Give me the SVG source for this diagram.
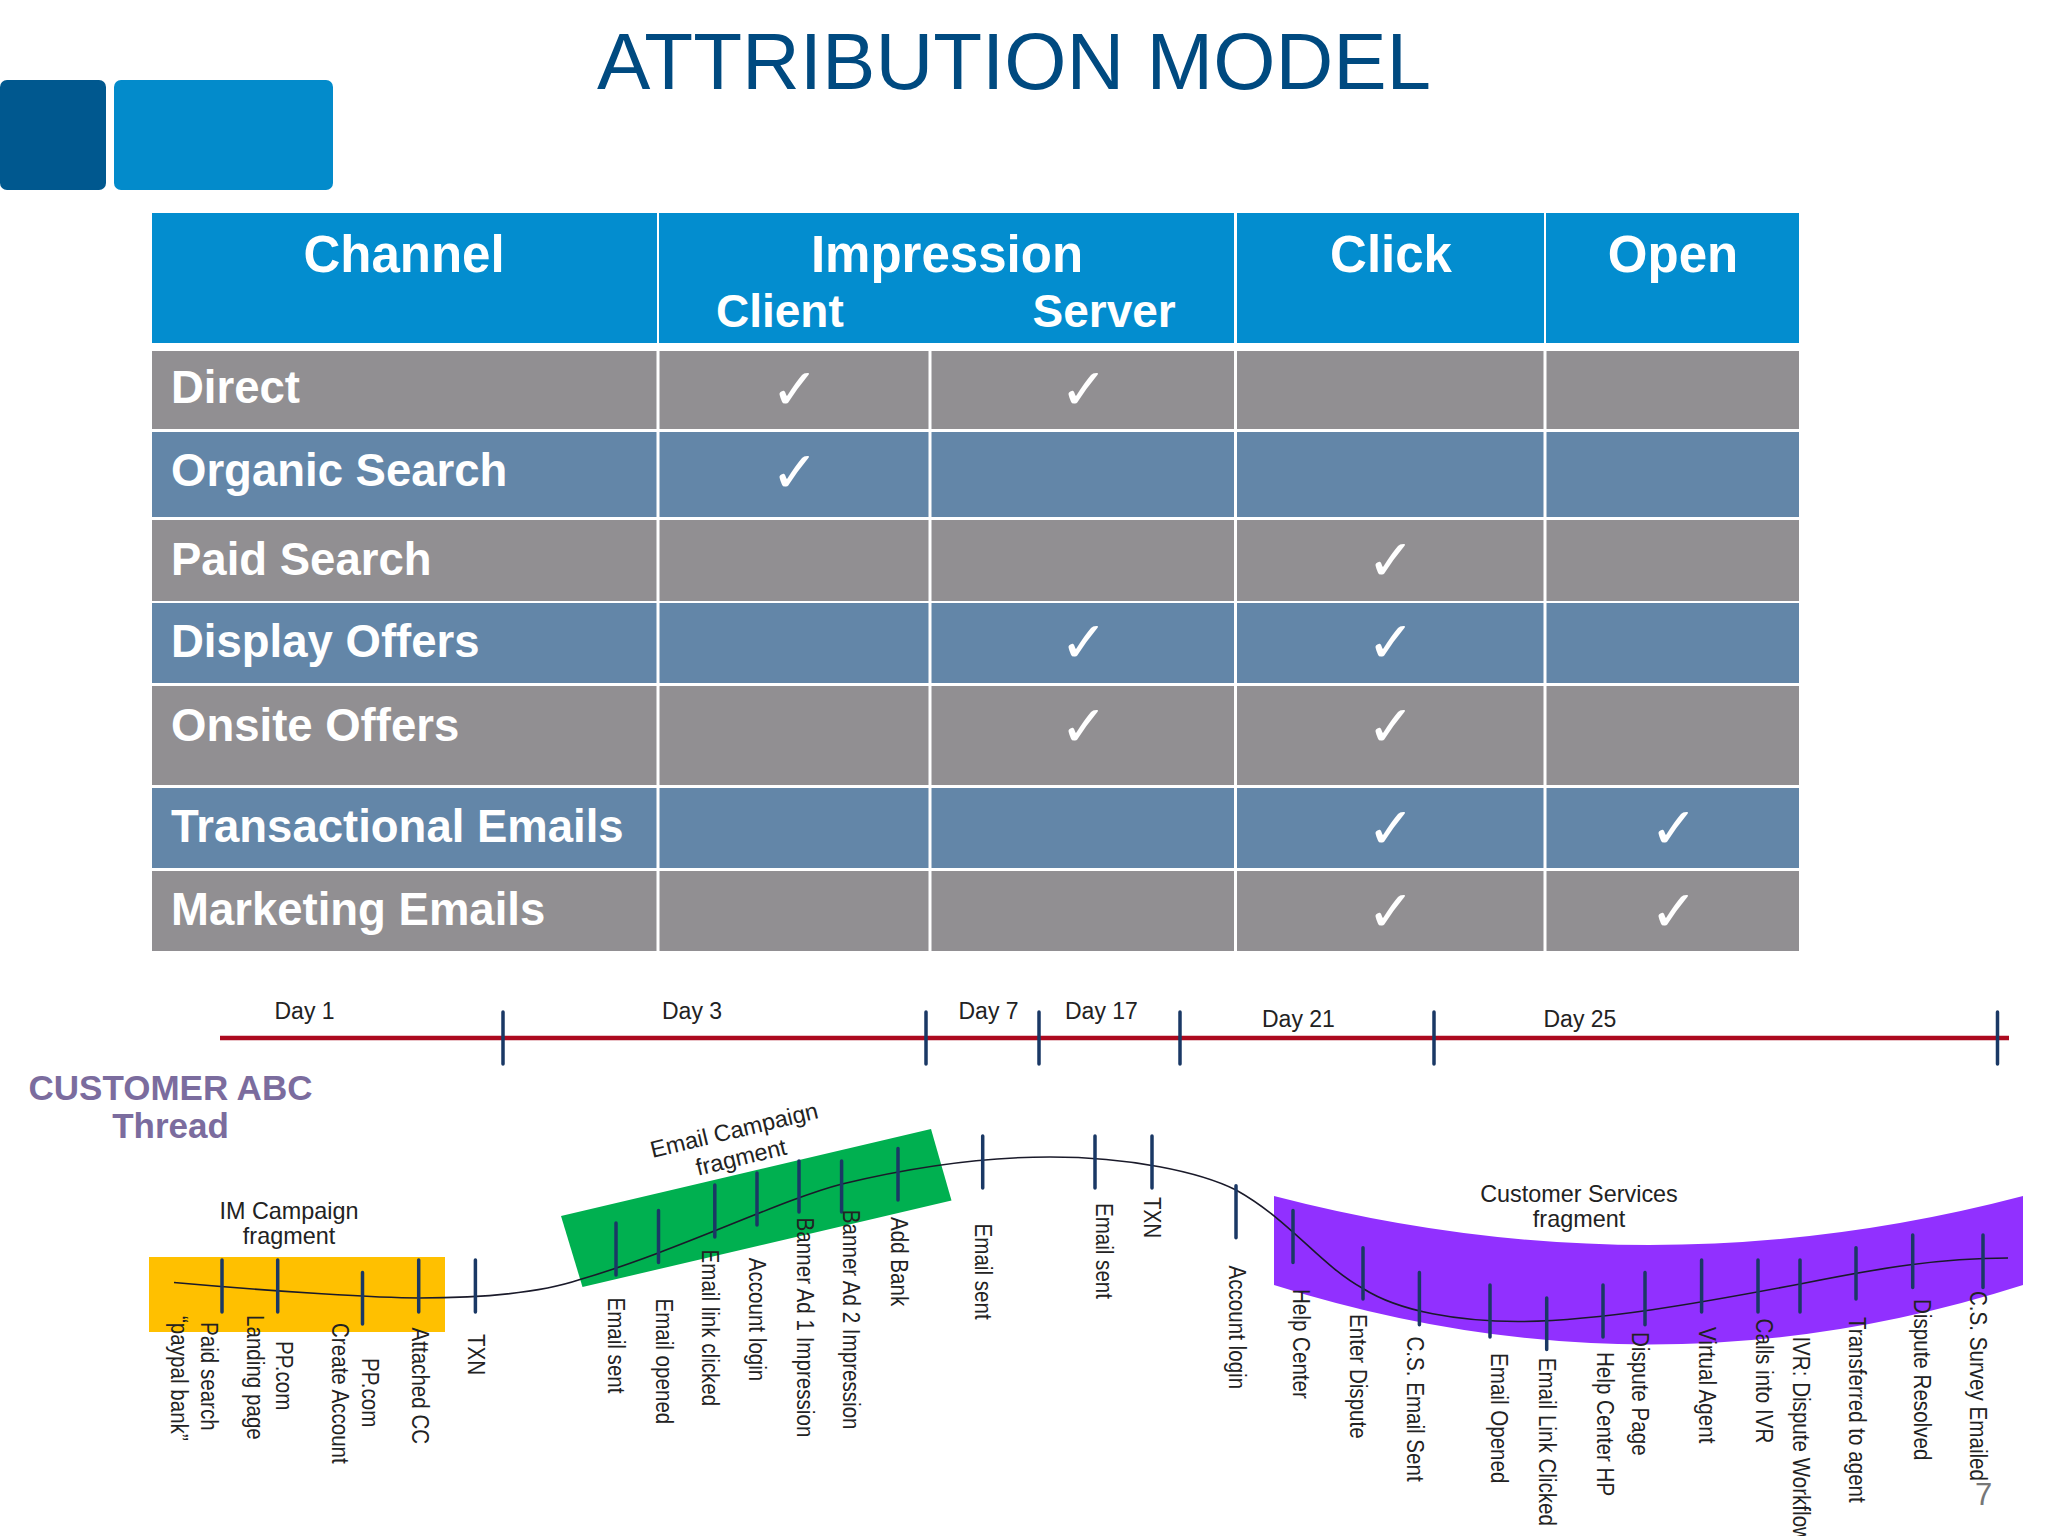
<svg xmlns="http://www.w3.org/2000/svg" width="2048" height="1536" viewBox="0 0 2048 1536">
<style>
text{font-family:"Liberation Sans",Arial,sans-serif}
.hd{font-size:51px;font-weight:700;fill:#fff;text-anchor:middle}
.sub{font-size:46px;font-weight:700;fill:#fff}
.row{font-size:45.500px;font-weight:700;fill:#fff}
.ck{font-family:"DejaVu Sans",sans-serif;font-size:57px;fill:#fff;text-anchor:middle}
.g{fill:#918f92}.b{fill:#6386a8}.h{fill:#038dcf}
.day{font-size:23px;fill:#222}
.frag{font-size:23.400px;fill:#222;text-anchor:middle}
.ev{font-size:20.600px;fill:#222}
.cust{font-size:35px;font-weight:700;fill:#7b6c9e;text-anchor:middle}
.tick{stroke:#1a3865;stroke-width:3.500;stroke-linecap:round;fill:none}
.sep{stroke:#fff;stroke-width:3}
</style>
<rect width="2048" height="1536" fill="#fff"/>
<g id="title"><text x="1014" y="89" font-size="80" fill="#004a80" text-anchor="middle">ATTRIBUTION MODEL</text></g>
<g id="logo">
<rect x="0" y="80" width="106" height="110" rx="7" fill="#00588f"/>
<rect x="114" y="80" width="219" height="110" rx="7" fill="#038bcb"/>
</g>
<g id="table">
<g id="header">
<rect class="h" x="152" y="213" width="505" height="130"/><rect class="h" x="659" y="213" width="575" height="130"/><rect class="h" x="1237" y="213" width="307" height="130"/><rect class="h" x="1546" y="213" width="253" height="130"/>
<text class="hd" x="404" y="272">Channel</text><text class="hd" x="947" y="272">Impression</text><text class="hd" x="1391" y="272">Click</text><text class="hd" x="1673" y="272">Open</text>
<text class="sub" x="716" y="327">Client</text><text class="sub" x="1032.500" y="327">Server</text>
</g>
<g id="row-direct"><rect class="g" x="152" y="351" width="1647" height="78"/><text class="row" x="171" y="403">Direct</text><text class="ck" x="795" y="409">✓</text><text class="ck" x="1084" y="409">✓</text></g>
<g id="row-organic"><rect class="b" x="152" y="432" width="1647" height="85"/><text class="row" x="171" y="486">Organic Search</text><text class="ck" x="795" y="492">✓</text></g>
<g id="row-paid"><rect class="g" x="152" y="520" width="1647" height="81"/><text class="row" x="171" y="575">Paid Search</text><text class="ck" x="1391" y="580">✓</text></g>
<g id="row-display"><rect class="b" x="152" y="603" width="1647" height="80"/><text class="row" x="171" y="657">Display Offers</text><text class="ck" x="1084" y="662">✓</text><text class="ck" x="1391" y="662">✓</text></g>
<g id="row-onsite"><rect class="g" x="152" y="686" width="1647" height="99"/><text class="row" x="171" y="741">Onsite Offers</text><text class="ck" x="1084" y="746">✓</text><text class="ck" x="1391" y="746">✓</text></g>
<g id="row-transactional"><rect class="b" x="152" y="788" width="1647" height="80"/><text class="row" x="171" y="842">Transactional Emails</text><text class="ck" x="1391" y="848">✓</text><text class="ck" x="1674" y="848">✓</text></g>
<g id="row-marketing"><rect class="g" x="152" y="871" width="1647" height="80"/><text class="row" x="171" y="925">Marketing Emails</text><text class="ck" x="1391" y="931">✓</text><text class="ck" x="1674" y="931">✓</text></g>
<g id="grid">
<path class="sep" d="M658 351V951M1235.500 351V951M1545 351V951M930 351V951"/>
</g>
</g>
<g id="fragments">
<polygon id="im-fragment" points="149,1257 445,1257 445,1332 149,1332" fill="#ffc000"/>
<polygon id="email-fragment" points="561,1216 931,1129 951.500,1200.500 582.500,1287" fill="#00b050"/>
<path id="cs-fragment" d="M1274 1196Q1650 1294 2023 1196V1285Q1650 1404 1274 1285Z" fill="#9130ff"/>
</g>
<g id="connectors">
<path id="timeline" d="M220 1038H2009" stroke="#ac0a1f" stroke-width="4.500" fill="none"/>
<path id="timeline-ticks" class="tick" d="M503 1012V1064M926 1012V1064M1039 1012V1064M1180 1012V1064M1434 1012V1064M1997.500 1012V1064"/>
<path id="thread" d="M174 1282.500C280 1292 380 1298 419 1298C480 1298 540 1293 580 1279.600C680 1250 780 1200 842 1184C900 1170 970 1157 1050 1157C1130 1157 1200 1172 1236 1190C1290 1220 1320 1265 1363 1288.500C1400 1312 1460 1321.500 1518 1321.500C1600 1321 1700 1303 1800 1284C1880 1268 1940 1258 2008 1258" stroke="#1a1a2a" stroke-width="1.600" fill="none"/>
<path id="event-ticks" class="tick" d="M222 1260V1312M277.700 1260V1312M362.500 1272.500V1324M418.700 1260V1312M475.400 1260V1312M616 1223V1275M658.500 1210.500V1262.600M714.800 1185V1237M757 1173V1225M799 1161V1212M841.600 1161V1212M898 1148.400V1200M982.700 1136V1188M1095 1136V1188M1152 1136V1188M1236 1185.700V1237.800M1293 1210.500V1262.600M1363 1247.700V1299M1419.400 1272.600V1324.700M1490 1285V1337M1546.700 1298V1349.500M1603 1285V1337M1645 1272.600V1324.700M1701.600 1260V1312M1758 1260V1312M1800 1260V1312M1856 1247.700V1299M1912.700 1235V1287.400M1983 1235V1287.400"/>
</g>
<g id="days">
<text class="day" x="274.500" y="1019">Day 1</text><text class="day" x="662" y="1019">Day 3</text><text class="day" x="958.500" y="1019">Day 7</text><text class="day" x="1065" y="1019">Day 17</text><text class="day" x="1262" y="1027">Day 21</text><text class="day" x="1543.500" y="1027">Day 25</text>
</g>
<g id="customer-label"><text class="cust" x="170.500" y="1100">CUSTOMER ABC</text><text class="cust" x="170.500" y="1138">Thread</text></g>
<g id="fragment-labels">
<text class="frag" x="289" y="1219">IM Campaign</text><text class="frag" x="289" y="1244">fragment</text>
<text class="frag" transform="translate(736 1138) rotate(-13.500)">Email Campaign</text><text class="frag" transform="translate(743 1165) rotate(-13.500)">fragment</text>
<text class="frag" x="1579" y="1202">Customer Services</text><text class="frag" x="1579" y="1227">fragment</text>
</g>
<g id="event-labels">
<text class="ev" transform="translate(170.700 1316) rotate(90) scale(1 1.120)">“paypal bank”</text>
<text class="ev" transform="translate(200.500 1322) rotate(90) scale(1 1.120)">Paid search</text>
<text class="ev" transform="translate(247 1315) rotate(90) scale(1 1.120)">Landing page</text>
<text class="ev" transform="translate(275.500 1341) rotate(90) scale(1 1.120)">PP.com</text>
<text class="ev" transform="translate(332 1323) rotate(90) scale(1 1.120)">Create Account</text>
<text class="ev" transform="translate(361.600 1358) rotate(90) scale(1 1.120)">PP.com</text>
<text class="ev" transform="translate(411.600 1327.500) rotate(90) scale(1 1.120)">Attached CC</text>
<text class="ev" transform="translate(467.500 1334) rotate(90) scale(1 1.120)">TXN</text>
<text class="ev" transform="translate(608 1297.400) rotate(90) scale(1 1.120)">Email sent</text>
<text class="ev" transform="translate(656 1298.400) rotate(90) scale(1 1.120)">Email opened</text>
<text class="ev" transform="translate(702 1249.500) rotate(90) scale(1 1.120)">Email link clicked</text>
<text class="ev" transform="translate(749 1257.700) rotate(90) scale(1 1.120)">Account login</text>
<text class="ev" transform="translate(797 1217.600) rotate(90) scale(1 1.120)">Banner Ad 1 Impression</text>
<text class="ev" transform="translate(842.500 1209.800) rotate(90) scale(1 1.120)">Banner Ad 2 Impression</text>
<text class="ev" transform="translate(891 1217) rotate(90) scale(1 1.120)">Add Bank</text>
<text class="ev" transform="translate(975 1223.500) rotate(90) scale(1 1.120)">Email sent</text>
<text class="ev" transform="translate(1096 1202.900) rotate(90) scale(1 1.120)">Email sent</text>
<text class="ev" transform="translate(1144 1197) rotate(90) scale(1 1.120)">TXN</text>
<text class="ev" transform="translate(1229 1265.500) rotate(90) scale(1 1.120)">Account login</text>
<text class="ev" transform="translate(1293 1289) rotate(90) scale(1 1.120)">Help Center</text>
<text class="ev" transform="translate(1350 1314) rotate(90) scale(1 1.120)">Enter Dispute</text>
<text class="ev" transform="translate(1407 1336.400) rotate(90) scale(1 1.120)">C.S. Email Sent</text>
<text class="ev" transform="translate(1491 1353) rotate(90) scale(1 1.120)">Email Opened</text>
<text class="ev" transform="translate(1538.600 1357.700) rotate(90) scale(1 1.120)">Email Link Clicked</text>
<text class="ev" transform="translate(1596.600 1352) rotate(90) scale(1 1.120)">Help Center HP</text>
<text class="ev" transform="translate(1632 1332) rotate(90) scale(1 1.120)">Dispute Page</text>
<text class="ev" transform="translate(1699 1327) rotate(90) scale(1 1.120)">Virtual Agent</text>
<text class="ev" transform="translate(1756 1318.600) rotate(90) scale(1 1.120)">Calls into IVR</text>
<text class="ev" transform="translate(1793 1336.400) rotate(90) scale(1 1.120)">IVR: Dispute Workflow</text>
<text class="ev" transform="translate(1849 1317) rotate(90) scale(1 1.120)">Transferred to agent</text>
<text class="ev" transform="translate(1913.600 1299) rotate(90) scale(1 1.120)">Dispute Resolved</text>
<text class="ev" transform="translate(1970 1291) rotate(90) scale(1 1.120)">C.S. Survey Emailed</text>
</g>
<g id="page-number"><text x="1975" y="1505" font-size="31" fill="#777">7</text></g>
</svg>
